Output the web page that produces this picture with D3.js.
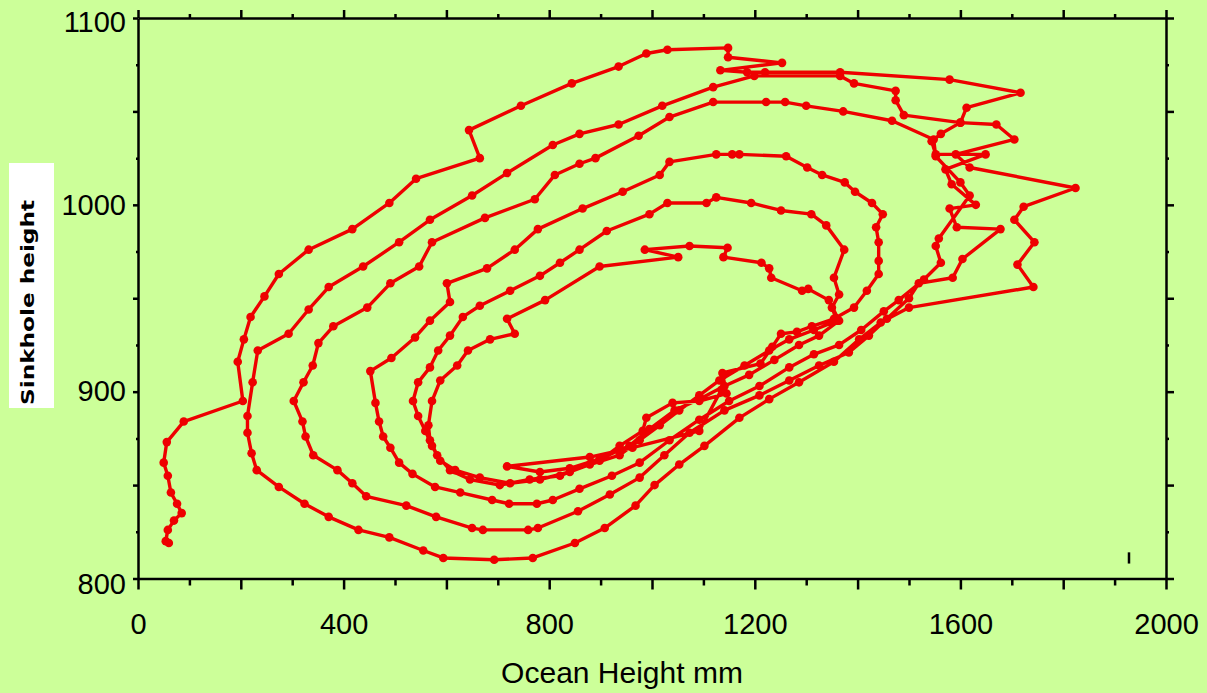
<!DOCTYPE html>
<html>
<head>
<meta charset="utf-8">
<script src="https://cdn.jsdelivr.net/npm/d3@7"></script>
<style>
  html, body { margin: 0; padding: 0; background: #ccff99; }
  svg { display: block; }
  .axis path, .axis line { stroke: #000; stroke-width: 2.5; }
  .axis text { font-family: "Liberation Sans", Arial, sans-serif; font-size: 29px; fill: #000; }
  .x-title { font-family: "Liberation Sans", Arial, sans-serif; font-size: 30px; fill: #000; }
  .y-title { font-family: "DejaVu Sans", sans-serif; font-size: 18px; font-weight: bold; fill: #000; }
</style>
</head>
<body>
<svg id="chart" width="1207" height="693"></svg>
<script>
// ----------------------------------------------------------
// Data: ocean height (mm) vs sinkhole height
// The track is kept in pieces, in drawing order.
// ----------------------------------------------------------

const startOcean    = [60, 54, 58, 70, 85, 76, 64, 58, 50, 56, 89, 204];
const startSinkhole = [819, 820, 826, 831, 835, 840, 846, 855, 862, 873, 884, 895];

// outer loop
const loop1Ocean = [194, 206, 219, 246, 274, 332, 417, 489, 541, 665, 644, 745, 844, 935, 989, 1030, 1148, 1148, 1253, 1133, 1185, 1220, 1366, 1579, 1717,
  1612, 1600, 1670, 1705, 1591, 1618, 1824, 1723, 1705, 1744, 1711, 1742, 1500, 1445, 1403, 1354, 1286, 1228, 1170, 1102, 1053, 1005, 968,
  908, 850, 768, 693, 594, 555, 489, 429, 371, 324, 274, 231, 221, 213, 213, 223];
const loop1Sinkhole = [916, 928, 940, 951, 963, 976, 987, 1001, 1014, 1025, 1040, 1053, 1065, 1074, 1081, 1083, 1084, 1079, 1076, 1072, 1071, 1071, 1071, 1067, 1060,
  1052, 1044, 1043, 1035, 1027, 1020, 1009, 999, 992, 980, 968, 956, 945, 937, 928, 916, 905, 896, 886, 871, 861, 850, 839,
  827, 819, 811, 810, 811, 815, 822, 826, 833, 840, 849, 858, 867, 878, 887, 905];

const loop2Ocean = [233, 293, 332, 371, 438, 508, 568, 650, 718, 807, 859, 935, 1020, 1119, 1199, 1366, 1393, 1474, 1474, 1490, 1600,
  1562, 1544, 1552, 1649, 1571, 1583, 1630, 1579, 1593, 1678, 1604, 1585, 1519, 1500, 1457, 1422, 1383, 1325, 1267, 1209, 1141, 1073, 1024, 976, 918, 856,
  778, 759, 671, 650, 580, 522, 444, 417, 388, 341, 326, 320, 303];
const loop2Sinkhole = [922, 931, 944, 956, 967, 980, 992, 1005, 1017, 1032, 1038, 1043, 1053, 1063, 1069, 1069, 1065, 1061, 1056, 1048, 1044,
  1038, 1034, 1027, 1027, 1019, 1011, 1000, 998, 988, 987, 971, 961, 958, 950, 939, 930, 921, 914, 906, 898, 890, 878, 866, 854, 845, 836,
  827, 826, 826, 827, 833, 839, 844, 851, 858, 866, 876, 884, 895];

const loop3Ocean = [322, 340, 351, 380, 446, 491, 547, 572, 675, 772, 811, 859, 890, 974, 1034, 1119, 1222, 1259, 1300, 1372, 1467,
  1548, 1552, 1600, 1618, 1558, 1552, 1562, 1529, 1480, 1451, 1407, 1364, 1315, 1267, 1209, 1150, 1092, 1034, 976, 922, 859,
  807, 776, 722, 689, 627, 578, 534, 508, 491, 477, 469, 462, 452];
const loop3Sinkhole = [905, 914, 926, 935, 945, 958, 967, 980, 993, 1003, 1016, 1022, 1025, 1037, 1047, 1055, 1055, 1055, 1053, 1050, 1045,
  1035, 1026, 1012, 1005, 982, 978, 969, 960, 949, 943, 933, 925, 920, 913, 903, 895, 885, 874, 862, 855, 848,
  842, 840, 840, 842, 846, 849, 856, 862, 870, 876, 884, 894, 911];

const loop4Ocean = [493, 539, 568, 607, 601, 679, 733, 778, 865, 943, 1015, 1034, 1125, 1156, 1170, 1261, 1302, 1331, 1375, 1395, 1428, 1449, 1436, 1441, 1441, 1441,
  1418, 1393, 1354, 1311, 1282, 1251, 1234, 1211, 1137, 1145, 1092, 1040, 989, 982, 937, 898, 840, 782,
  724, 665, 617, 588, 572, 559, 545, 535];
const loop4Sinkhole = [918, 929, 938, 948, 958, 966, 976, 987, 998, 1007, 1016, 1023, 1027, 1027, 1027, 1026, 1020, 1016, 1012, 1007, 1001, 995, 988, 980, 970, 963,
  954, 945, 939, 935, 932, 931, 924, 915, 910, 899, 895, 894, 886, 879, 871, 863, 857, 853,
  851, 854, 858, 863, 871, 879, 887, 895];

const loop5Ocean = [545, 568, 584, 607, 632, 665, 724, 782, 821, 859, 912, 995, 1030, 1106, 1125, 1193, 1251, 1310, 1339, 1374, 1354, 1364, 1350, 1360,
  1315, 1267, 1228, 1180, 1131, 1092, 1053, 1015, 976, 937, 879, 821, 762, 704, 646, 607, 582, 568, 565];
const loop5Sinkhole = [905, 913, 922, 930, 940, 946, 954, 962, 969, 976, 986, 995, 1001, 1001, 1004, 1001, 997, 995, 989, 976, 961, 952, 945, 938,
  933, 928, 922, 914, 906, 898, 890, 882, 874, 866, 861, 855, 853, 850, 853, 858, 866, 874, 882];

// innermost loop
const loop6Ocean = [572, 588, 621, 642, 685, 733, 718, 792, 898, 1051, 986, 1073, 1147, 1139, 1213, 1228, 1232, 1292, 1304, 1344, 1364,
  1325, 1286, 1238, 1189, 1141, 1092, 1044, 995, 956, 898, 840, 782, 718, 879, 962, 1092, 1135, 1139];
const loop6Sinkhole = [895, 906, 914, 922, 928, 931, 939, 949, 967, 972, 976, 978, 977, 972, 969, 966, 961, 954, 955, 949, 938,
  930, 925, 917, 909, 903, 896, 890, 880, 871, 864, 859, 857, 860, 865, 870, 879, 901, 909];

// stray mark near the lower right corner
const markOcean = 1928;
const markSinkhole = [808, 814];

const xTicks = d3.range(0, 2001, 100);
const yTicks = d3.range(800, 1101, 25);

const COLORS = {
  background: '#ccff99',
  track: '#ee0000',
};

// ----------------------------------------------------------
// Layout
// ----------------------------------------------------------

const W = 1207;
const H = 693;
const plot = { left: 138, right: 1166, top: 18, bottom: 578.5 };

const svg = d3.select('#chart');

svg.append('rect')
  .attr('width', W)
  .attr('height', H)
  .attr('fill', COLORS.background);

const x = d3.scaleLinear().domain([0, 2000]).range([plot.left, plot.right]);
const y = d3.scaleLinear().domain([800, 1100]).range([plot.bottom, plot.top]);

// ----------------------------------------------------------
// Track
// ----------------------------------------------------------

const pieces = [
  [startOcean, startSinkhole],
  [loop1Ocean, loop1Sinkhole],
  [loop2Ocean, loop2Sinkhole],
  [loop3Ocean, loop3Sinkhole],
  [loop4Ocean, loop4Sinkhole],
  [loop5Ocean, loop5Sinkhole],
  [loop6Ocean, loop6Sinkhole],
];

const points = [];
pieces.forEach(([xs, ys]) => {
  xs.forEach((v, i) => points.push({ ocean: v, sinkhole: ys[i] }));
});

const line = d3.line()
  .x((d) => x(d.ocean))
  .y((d) => y(d.sinkhole));

svg.append('path')
  .datum(points)
  .attr('d', line)
  .attr('fill', 'none')
  .attr('stroke', COLORS.track)
  .attr('stroke-width', 3.4)
  .attr('stroke-linejoin', 'round');

svg.append('g')
  .selectAll('circle')
  .data(points)
  .enter()
  .append('circle')
  .attr('cx', (d) => x(d.ocean))
  .attr('cy', (d) => y(d.sinkhole))
  .attr('r', 4.3)
  .attr('fill', COLORS.track);

svg.append('line')
  .attr('x1', x(markOcean))
  .attr('x2', x(markOcean))
  .attr('y1', y(markSinkhole[0]))
  .attr('y2', y(markSinkhole[1]))
  .attr('stroke', '#000')
  .attr('stroke-width', 2.5);

// ----------------------------------------------------------
// Axes (box with ticks on all sides)
// ----------------------------------------------------------

const bottomAxis = svg.append('g')
  .attr('class', 'axis')
  .attr('transform', 'translate(0,' + plot.bottom + ')')
  .call(d3.axisBottom(x).tickValues(xTicks)
    .tickFormat((d) => (d % 400 === 0 ? d : ''))
    .tickSize(11).tickSizeOuter(0).tickPadding(24));
bottomAxis.selectAll('.tick line').filter((d) => d % 200 !== 0).attr('y2', 7);

const topAxis = svg.append('g')
  .attr('class', 'axis')
  .attr('transform', 'translate(0,' + plot.top + ')')
  .call(d3.axisTop(x).tickValues(xTicks).tickFormat('').tickSize(8).tickSizeOuter(0));
topAxis.selectAll('.tick line').filter((d) => d % 200 !== 0).attr('y2', -4);

const leftAxis = svg.append('g')
  .attr('class', 'axis')
  .attr('transform', 'translate(' + plot.left + ',0)')
  .call(d3.axisLeft(y).tickValues(yTicks)
    .tickFormat((d) => (d % 100 === 0 ? d : ''))
    .tickSize(5).tickSizeOuter(0).tickPadding(7));
leftAxis.selectAll('.tick line').filter((d) => d % 50 !== 0).attr('x2', -2);
// end labels sit a little lower, as in the original
leftAxis.selectAll('.tick text').filter((d) => d === 1100).attr('dy', '0.45em');
leftAxis.selectAll('.tick text').filter((d) => d === 800).attr('dy', '0.52em');

const rightAxis = svg.append('g')
  .attr('class', 'axis')
  .attr('transform', 'translate(' + plot.right + ',0)')
  .call(d3.axisRight(y).tickValues(yTicks).tickFormat('').tickSize(8).tickSizeOuter(0));
rightAxis.selectAll('.tick line').filter((d) => d % 50 !== 0).attr('x2', 3);

// ----------------------------------------------------------
// Titles
// ----------------------------------------------------------

svg.append('text')
  .attr('class', 'x-title')
  .attr('x', 622)
  .attr('y', 683)
  .attr('text-anchor', 'middle')
  .text('Ocean Height mm');

svg.append('rect')
  .attr('x', 9)
  .attr('y', 163)
  .attr('width', 45)
  .attr('height', 245)
  .attr('fill', '#fff');

svg.append('text')
  .attr('class', 'y-title')
  .attr('transform', 'translate(34,405) rotate(-90)')
  .attr('textLength', 205)
  .attr('lengthAdjust', 'spacingAndGlyphs')
  .text('Sinkhole height');
</script>
</body>
</html>
